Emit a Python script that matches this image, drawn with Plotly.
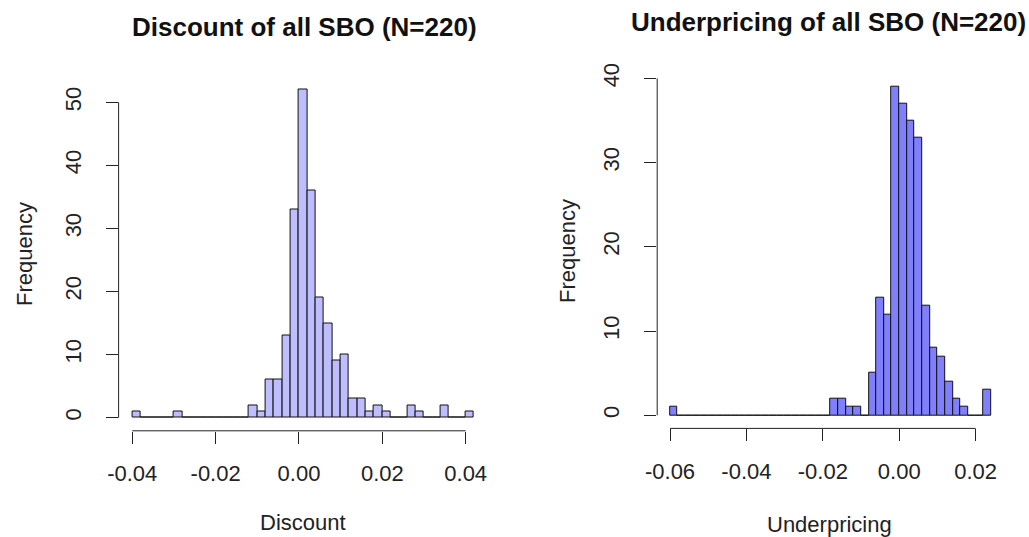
import numpy as np
import plotly.graph_objects as go

# ---------------- data ----------------
BIN_WIDTH = 0.002

disc_first_edge = -0.040
disc_counts = [1, 0, 0, 0, 0, 1, 0, 0, 0, 0, 0, 0, 0, 0, 2, 1, 6, 6, 13, 33,
               52, 36, 19, 15, 9, 10, 3, 3, 1, 2, 1, 0, 0, 2, 1, 0, 0, 2, 0, 0, 1]

under_first_edge = -0.060
under_counts = [1, 0, 0, 0, 0, 0, 0, 0, 0, 0, 0, 0, 0, 0, 0, 0, 0, 0, 0, 0, 0,
                2, 2, 1, 1, 0, 5, 14, 12, 39, 37, 35, 33, 13, 8, 7, 4, 2, 1, 0, 0, 3]

disc_xticks = [-0.04, -0.02, 0.00, 0.02, 0.04]
disc_xlabels = ["-0.04", "-0.02", "0.00", "0.02", "0.04"]
disc_yticks = [0, 10, 20, 30, 40, 50]

under_xticks = [-0.06, -0.04, -0.02, 0.00, 0.02]
under_xlabels = ["-0.06", "-0.04", "-0.02", "0.00", "0.02"]
under_yticks = [0, 10, 20, 30, 40]

titles = ["Discount of all SBO (N=220)", "Underpricing of all SBO (N=220)"]
xtitles = ["Discount", "Underpricing"]
ytitle = "Frequency"

colors = ["#BEBEFF", "#8080FF"]

# ---------------- figure ----------------
W, H = 1029, 537
FONT = "Liberation Sans, Arial, sans-serif"


def centers(first_edge, counts):
    return [first_edge + BIN_WIDTH * (i + 0.5) for i in range(len(counts))]


def r_range(lo, hi):
    ext = (hi - lo) * 0.04
    return [lo - ext, hi + ext]


fig = go.Figure()

panels = [
    dict(first=disc_first_edge, counts=disc_counts, xt=disc_xticks, xl=disc_xlabels,
         yt=disc_yticks, color=colors[0], dom_x=(118.6, 487.7), dom_y=(76.5, 430.8),
         xa="x", ya="y"),
    dict(first=under_first_edge, counts=under_counts, xt=under_xticks, xl=under_xlabels,
         yt=under_yticks, color=colors[1], dom_x=(657.2, 1003.8), dom_y=(73.7, 428.4),
         xa="x2", ya="y2"),
]

for k, p in enumerate(panels):
    fig.add_trace(go.Bar(
        x=centers(p["first"], p["counts"]), y=p["counts"], width=BIN_WIDTH,
        marker=dict(color=p["color"], line=dict(color="#111111", width=1)),
        xaxis=p["xa"], yaxis=p["ya"], showlegend=False, hoverinfo="x+y"))
    n = len(p["counts"])
    xr = r_range(p["first"], p["first"] + BIN_WIDTH * n)
    yr = r_range(0, max(p["counts"]))
    axx = dict(domain=[p["dom_x"][0] / W, p["dom_x"][1] / W], range=xr,
               tickvals=p["xt"], ticktext=p["xl"], ticks="outside", ticklen=12,
               tickwidth=1, tickcolor="#222222", showline=False, showgrid=False,
               zeroline=False, tickfont=dict(family=FONT, size=22, color="#222222"),
               ticklabelstandoff=11, anchor=p["ya"], fixedrange=True, automargin=False)
    axy = dict(domain=[1 - p["dom_y"][1] / H, 1 - p["dom_y"][0] / H], range=yr,
               tickvals=p["yt"], ticks="outside", ticklen=12, tickwidth=1,
               tickcolor="#222222", showline=False, showgrid=False, zeroline=False,
               tickangle=-90, tickfont=dict(family=FONT, size=22, color="#222222"),
               ticklabelstandoff=16, anchor=p["xa"], fixedrange=True, automargin=False)
    suffix = "" if k == 0 else "2"
    fig.layout["xaxis" + suffix] = axx
    fig.layout["yaxis" + suffix] = axy
    # R-style axis lines spanning first to last tick
    xref = p["xa"]
    yref = p["ya"]
    fig.add_shape(type="line", xref=xref, yref=yref + " domain",
                  x0=min(p["xt"]), x1=max(p["xt"]), y0=0, y1=0,
                  line=dict(color="#222222", width=1))
    fig.add_shape(type="line", xref=xref + " domain", yref=yref,
                  x0=0, x1=0, y0=min(p["yt"]), y1=max(p["yt"]),
                  line=dict(color="#222222", width=1))

ann = []
# titles
ann.append(dict(text="<b>" + titles[0] + "</b>", x=304 / W, y=1 - 27 / H))
ann.append(dict(text="<b>" + titles[1] + "</b>", x=828 / W, y=1 - 22 / H))
for a in ann:
    a.update(xref="paper", yref="paper", showarrow=False, xanchor="center",
             yanchor="middle", font=dict(family=FONT, size=26, color="#111111"))
axis_ann = [
    dict(text=xtitles[0], x=303 / W, y=1 - 522 / H, textangle=0),
    dict(text=xtitles[1], x=829 / W, y=1 - 524 / H, textangle=0),
    dict(text=ytitle, x=24 / W, y=1 - 254 / H, textangle=-90),
    dict(text=ytitle, x=567 / W, y=1 - 251 / H, textangle=-90),
]
for a in axis_ann:
    a.update(xref="paper", yref="paper", showarrow=False, xanchor="center",
             yanchor="middle", font=dict(family=FONT, size=22, color="#222222"))
fig.update_layout(annotations=ann + axis_ann)

fig.update_layout(width=W, height=H, margin=dict(l=0, r=0, t=0, b=0, autoexpand=False),
                  paper_bgcolor="white", plot_bgcolor="white", bargap=0,
                  showlegend=False)

fig.write_html("out.html", config={"displayModeBar": False})
